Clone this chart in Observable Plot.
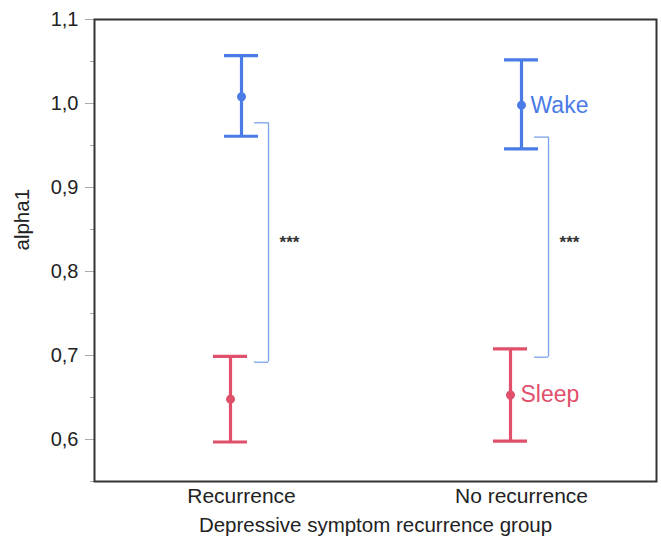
<!DOCTYPE html>
<html><head><meta charset="utf-8">
<script src="https://cdn.jsdelivr.net/npm/d3@7"></script>
<script src="https://cdn.jsdelivr.net/npm/@observablehq/plot@0.6"></script>
<style>body{margin:0;background:#fff} svg{display:block}</style>
</head><body><div id="chart"></div><script>
const groups = ["Recurrence", "No recurrence"];
const wakeMean = [1.008, 0.998];
const wakeLow = [0.961, 0.946];
const wakeHigh = [1.057, 1.052];
const sleepMean = [0.648, 0.653];
const sleepLow = [0.597, 0.598];
const sleepHigh = [0.699, 0.708];
const bracketTop = [0.977, 0.960];
const bracketBottom = [0.692, 0.698];
const sigLabels = ["***", "***"];
const sigLevel = [0.834, 0.834];
const yTicks = [0.6, 0.7, 0.8, 0.9, 1.0, 1.1];
const yMinor = [0.55, 0.65, 0.75, 0.85, 0.95, 1.05];
const seriesNames = ["Wake", "Sleep"];
const xTitle = "Depressive symptom recurrence group";
const yTitle = "alpha1";

const blue = "#4a7be6", red = "#e0506a", light = "#7aa2ea";
const wake = groups.map((g, i) => ({group: g, mean: wakeMean[i], low: wakeLow[i], high: wakeHigh[i]}));
const sleep = groups.map((g, i) => ({group: g, mean: sleepMean[i], low: sleepLow[i], high: sleepHigh[i]}));
const brackets = groups.map((g, i) => ({group: g, top: bracketTop[i], bottom: bracketBottom[i], sig: sigLabels[i], level: sigLevel[i]}));
const fmt = d => d3.format(".1f")(d).replace(".", ",");

function bars(data, color, dx) {
  return [
    Plot.ruleX(data, {x: "group", y1: "low", y2: "high", stroke: color, strokeWidth: 3.2, dx}),
    Plot.tickY(data, {x: "group", y: "low", stroke: color, strokeWidth: 3.2, dx}),
    Plot.tickY(data, {x: "group", y: "high", stroke: color, strokeWidth: 3.2, dx}),
    Plot.dot(data, {x: "group", y: "mean", r: 4.5, fill: color, stroke: null, dx})
  ];
}

const plot = Plot.plot({
  width: 661, height: 547,
  marginLeft: 94, marginRight: 5, marginTop: 19, marginBottom: 66,
  style: {fontFamily: "'Liberation Sans', Arial, sans-serif", background: "#fff", color: "#222"},
  x: {type: "band", domain: groups, paddingInner: 0.8788, paddingOuter: 0.441, align: 0.523, axis: null},
  y: {domain: [0.55, 1.1], axis: null},
  marks: [
    Plot.axisY({ticks: yMinor, tickSize: 4, tickFormat: () => "", stroke: "#aaa", label: null}),
    Plot.axisY({ticks: yTicks, tickSize: 9, tickPadding: 7, tickFormat: fmt, stroke: "#aaa", fontSize: 20, label: null}),
    Plot.text(groups, {x: d => d, text: d => d, frameAnchor: "bottom", dy: 21, fontSize: 21, fill: "#222"}),
    Plot.text([xTitle], {text: d => d, frameAnchor: "bottom", dy: 50, fontSize: 20.5, fill: "#222"}),
    Plot.text([yTitle], {text: d => d, frameAnchor: "left", dx: -72, rotate: -90, fontSize: 20.5, fill: "#222"}),
    Plot.frame({stroke: "#333", strokeWidth: 2}),
    Plot.tickY(brackets, {x: "group", y: "top", dx: 30, insetRight: 20, stroke: light, strokeWidth: 1.3}),
    Plot.tickY(brackets, {x: "group", y: "bottom", dx: 30, insetRight: 20, stroke: light, strokeWidth: 1.3}),
    Plot.ruleX(brackets, {x: "group", y1: "bottom", y2: "top", dx: 27, stroke: light, strokeWidth: 1.3}),
    Plot.text(brackets, {x: "group", y: "level", text: "sig", dx: 48, fontSize: 17, fontWeight: "bold", fill: "#333"}),
    ...bars(wake, blue, 0),
    ...bars(sleep, red, -11),
    Plot.text([wake[1]], {x: "group", y: "mean", text: () => seriesNames[0], textAnchor: "start", dx: 9, fill: blue, fontSize: 23}),
    Plot.text([sleep[1]], {x: "group", y: "mean", text: () => seriesNames[1], textAnchor: "start", dx: -1, fill: red, fontSize: 23})
  ]
});
document.getElementById("chart").appendChild(plot);
</script></body></html>
